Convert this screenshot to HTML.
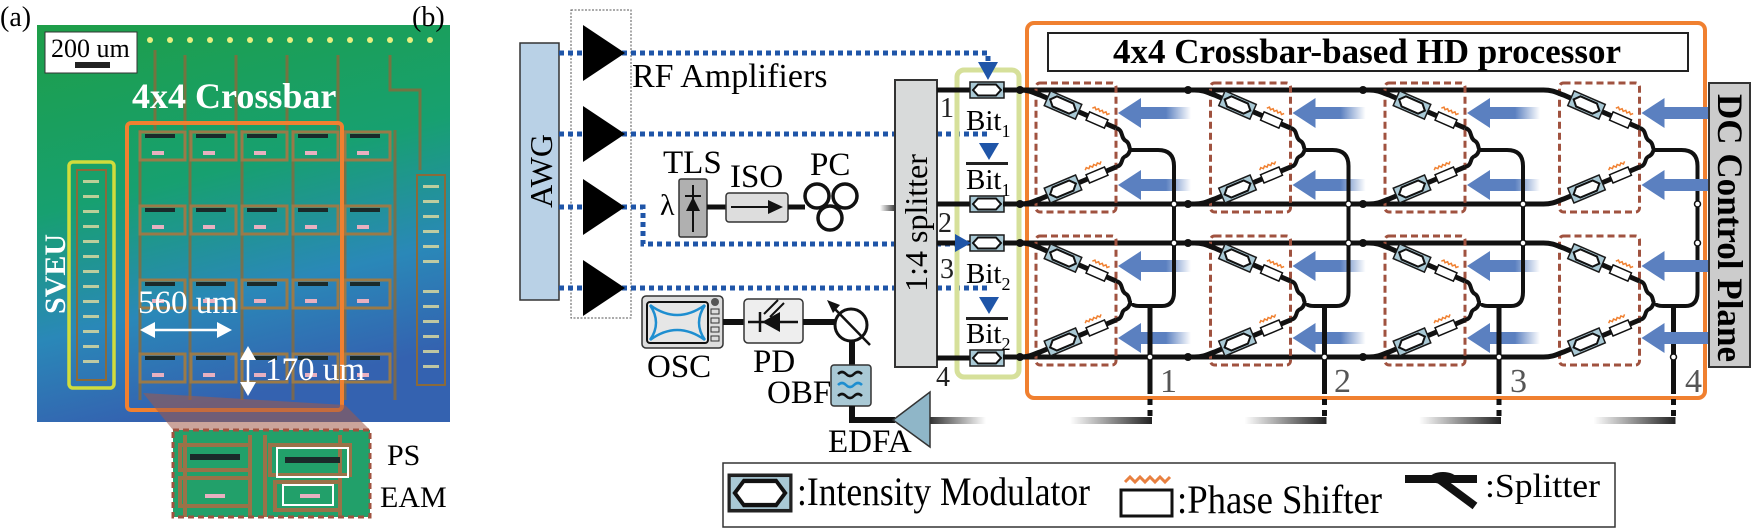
<!DOCTYPE html>
<html><head><meta charset="utf-8"><style>
html,body{margin:0;padding:0;background:#fff}
svg{display:block}
svg text{font-family:"Liberation Serif","DejaVu Serif",serif}
</style></head><body>
<svg width="1751" height="528" viewBox="0 0 1751 528" xmlns="http://www.w3.org/2000/svg" font-family="Liberation Serif, DejaVu Serif, serif" style="font-family:'Liberation Serif','DejaVu Serif',serif">
<defs>
<linearGradient id="chip" x1="0" y1="0" x2="0.25" y2="1">
<stop offset="0" stop-color="#1e9e48"/><stop offset="0.45" stop-color="#17a070"/><stop offset="0.75" stop-color="#2a88b8"/><stop offset="1" stop-color="#3462b0"/>
</linearGradient>
<linearGradient id="fade" x1="0" y1="0" x2="1" y2="0">
<stop offset="0" stop-color="#5b80c0"/><stop offset="0.5" stop-color="#5b80c0"/><stop offset="1" stop-color="#5b80c0" stop-opacity="0"/>
</linearGradient>
<linearGradient id="fadeL" x1="0" y1="0" x2="1" y2="0">
<stop offset="0" stop-color="#222" stop-opacity="0"/><stop offset="1" stop-color="#222"/>
</linearGradient>
<linearGradient id="grayR" x1="0" y1="0" x2="1" y2="0">
<stop offset="0" stop-color="#333"/><stop offset="1" stop-color="#333" stop-opacity="0"/>
</linearGradient>
<g id="mz"><rect x="-17" y="-8" width="34" height="16" fill="#a9c9d5" stroke="#1a1a1a" stroke-width="1.5"/><polygon points="-14,0 -9,-5.5 9,-5.5 14,0 9,5.5 -9,5.5" fill="#fff" stroke="#111" stroke-width="2"/></g>
<g id="ps"><rect x="-10" y="-4.5" width="20" height="9" fill="#fff" stroke="#111" stroke-width="1.5"/><path d="M-9,-9 l2,-2 2,2 2,-2 2,2 2,-2 2,2 2,-2 2,2 2,-2" fill="none" stroke="#f08030" stroke-width="1.5"/></g>
<g id="half">
<rect x="1036" y="83" width="80" height="129" rx="4" fill="none" stroke="#a0523f" stroke-width="3" stroke-dasharray="7,4"/>
<path d="M1020,90 C1030,90 1034,93 1040,95 L1116,128" fill="none" stroke="#111" stroke-width="5"/>
<path d="M1020,204 C1030,204 1034,201 1040,199 L1116,167" fill="none" stroke="#111" stroke-width="5"/>
<use href="#mz" transform="translate(1063,105) rotate(23.5)"/>
<use href="#ps" transform="translate(1097,120) rotate(23.5)"/>
<use href="#mz" transform="translate(1063,189) rotate(-22.8)"/>
<use href="#ps" transform="translate(1097,175) rotate(-22.8)"/>
<path d="M1116,128 C1124,130 1120,138 1126,141 C1131,144 1128,150 1132,150 M1116,167 C1124,165 1120,158 1126,156 C1131,153 1128,150 1132,150" fill="none" stroke="#111" stroke-width="4"/>
<polygon points="1118,113 1141,98 1141,128" fill="#5b80c0"/>
<rect x="1141" y="107" width="50" height="12" fill="url(#fade)"/>
<polygon points="1118,185 1141,170 1141,200" fill="#5b80c0"/>
<rect x="1141" y="179" width="50" height="12" fill="url(#fade)"/>
</g>
<g id="col">
<use href="#half"/>
<use href="#half" transform="translate(0,153)"/>
<path d="M1130,150 L1158,150 Q1174,150 1174,166 L1174,292 Q1174,306 1162,306 L1140,306 Q1132,306 1132,303" fill="none" stroke="#111" stroke-width="4"/>
<path d="M1150,306 L1150,388" fill="none" stroke="#111" stroke-width="5"/>
<path d="M1150,388 L1150,420" fill="none" stroke="#111" stroke-width="5" stroke-dasharray="6,5"/>
<rect x="1070" y="417" width="82" height="7" fill="url(#fadeL)"/>
<g fill="#fff" stroke="#111" stroke-width="1.5"><circle cx="1174" cy="204" r="3"/><circle cx="1174" cy="243" r="3"/><circle cx="1150" cy="357" r="3"/></g>
</g>
</defs>

<!-- ============ (a) ============ -->
<text x="0" y="26" font-size="28">(a)</text>
<rect x="37" y="25" width="413" height="397" fill="url(#chip)"/>
<g fill="#e8f080">
<circle cx="150" cy="40" r="3"/><circle cx="170" cy="40" r="3"/><circle cx="190" cy="40" r="3"/><circle cx="210" cy="40" r="3"/><circle cx="230" cy="40" r="3"/><circle cx="250" cy="40" r="3"/><circle cx="270" cy="40" r="3"/><circle cx="290" cy="40" r="3"/><circle cx="310" cy="40" r="3"/><circle cx="330" cy="40" r="3"/><circle cx="350" cy="40" r="3"/><circle cx="370" cy="40" r="3"/><circle cx="390" cy="40" r="3"/><circle cx="410" cy="40" r="3"/><circle cx="430" cy="40" r="3"/>
</g>
<g stroke="#8a6a3a" stroke-width="3" fill="none" opacity="0.8">
<path d="M155,50 V130 M185,55 V130 M236,55 V130 M287,55 V130 M338,55 V130 M390,55 V90 H420 V170"/>
<path d="M140,130 V400 M190,130 V400 M242,130 V400 M293,130 V400 M345,130 V400 M395,130 V400"/>
</g>
<g id="chiprow">
<g fill="none" stroke="#9a7a48" stroke-width="3">
<rect x="140" y="132" width="45" height="28"/><rect x="191" y="132" width="45" height="28"/><rect x="242" y="132" width="45" height="28"/><rect x="293" y="132" width="45" height="28"/><rect x="345" y="132" width="45" height="28"/>
</g>
<g fill="#1a2a2a"><rect x="145" y="134" width="30" height="4"/><rect x="196" y="134" width="30" height="4"/><rect x="247" y="134" width="30" height="4"/><rect x="298" y="134" width="30" height="4"/><rect x="350" y="134" width="30" height="4"/></g>
<g fill="#e8b0c0"><rect x="152" y="151" width="12" height="4"/><rect x="203" y="151" width="12" height="4"/><rect x="254" y="151" width="12" height="4"/><rect x="305" y="151" width="12" height="4"/><rect x="357" y="151" width="12" height="4"/></g>
</g>
<use href="#chiprow" transform="translate(0,74)"/>
<use href="#chiprow" transform="translate(0,148)"/>
<use href="#chiprow" transform="translate(0,222)"/>
<g fill="#d8d8a0" opacity="0.85">
<rect x="83" y="180" width="16" height="3"/><rect x="83" y="195" width="16" height="3"/><rect x="83" y="210" width="16" height="3"/><rect x="83" y="225" width="16" height="3"/><rect x="83" y="240" width="16" height="3"/><rect x="83" y="255" width="16" height="3"/><rect x="83" y="270" width="16" height="3"/><rect x="83" y="285" width="16" height="3"/><rect x="83" y="300" width="16" height="3"/><rect x="83" y="315" width="16" height="3"/><rect x="83" y="330" width="16" height="3"/><rect x="83" y="345" width="16" height="3"/><rect x="83" y="360" width="16" height="3"/>
<rect x="423" y="185" width="16" height="3"/><rect x="423" y="200" width="16" height="3"/><rect x="423" y="215" width="16" height="3"/><rect x="423" y="230" width="16" height="3"/><rect x="423" y="245" width="16" height="3"/><rect x="423" y="260" width="16" height="3"/><rect x="423" y="290" width="16" height="3"/><rect x="423" y="305" width="16" height="3"/><rect x="423" y="320" width="16" height="3"/><rect x="423" y="335" width="16" height="3"/><rect x="423" y="350" width="16" height="3"/><rect x="423" y="365" width="16" height="3"/>
</g>
<rect x="77" y="170" width="29" height="210" fill="none" stroke="#8a6a3a" stroke-width="2"/>
<rect x="417" y="175" width="28" height="210" fill="none" stroke="#8a6a3a" stroke-width="2"/>
<rect x="45" y="32" width="92" height="41" fill="#fff" stroke="#333" stroke-width="1"/>
<text x="51" y="57" font-size="26">200 um</text>
<rect x="75" y="62" width="35" height="6" fill="#222"/>
<text x="132" y="108" font-size="36" font-weight="bold" fill="#fff">4x4 Crossbar</text>
<rect x="127" y="123" width="215" height="287" rx="4" fill="none" stroke="#f08030" stroke-width="4"/>
<rect x="69" y="162" width="45" height="226" rx="4" fill="none" stroke="#d0dc3c" stroke-width="3.5"/>
<text transform="translate(65,314) rotate(-90)" font-size="30" font-weight="bold" fill="#fff">SVEU</text>
<text x="138" y="313" font-size="33" fill="#fff">560 um</text>
<g stroke="#fff" stroke-width="2.5" fill="#fff">
<line x1="150" y1="330" x2="222" y2="330"/>
<polygon points="140,330 155,322 155,338" stroke="none"/><polygon points="232,330 217,322 217,338" stroke="none"/>
<line x1="248" y1="356" x2="248" y2="386"/>
<polygon points="248,346 240,360 256,360" stroke="none"/><polygon points="248,396 240,382 256,382" stroke="none"/>
</g>
<text x="265" y="380" font-size="33" fill="#fff">170 um</text>
<polygon points="143,393 345,405 370,430 173,430" fill="#a05a48" opacity="0.55"/>
<rect x="173" y="430" width="197" height="87" fill="#22a06a"/>
<g fill="none" stroke="#9a7248" stroke-width="4">
<path d="M185,435 V517 M250,435 V517 M265,435 V517 M340,435 V517"/>
<rect x="180" y="445" width="70" height="25"/><rect x="270" y="445" width="80" height="30"/><rect x="180" y="478" width="70" height="28"/><rect x="275" y="482" width="65" height="28"/>
</g>
<rect x="190" y="454" width="50" height="6" fill="#1a2a2a"/><rect x="285" y="457" width="55" height="6" fill="#1a2a2a"/>
<rect x="205" y="494" width="20" height="4" fill="#e8b0c0"/><rect x="300" y="494" width="20" height="4" fill="#e8b0c0"/>
<rect x="173" y="430" width="197" height="87" fill="none" stroke="#a0523f" stroke-width="3" stroke-dasharray="6,4"/>
<rect x="277" y="448" width="71" height="29" fill="none" stroke="#fff" stroke-width="2"/>
<rect x="283" y="485" width="50" height="20" fill="none" stroke="#fff" stroke-width="2"/>
<text x="387" y="465" font-size="30">PS</text>
<text x="380" y="507" font-size="30">EAM</text>

<!-- ============ (b) ============ -->
<text x="412" y="26" font-size="28">(b)</text>
<rect x="520" y="43" width="39" height="257" fill="#b9d1e6" stroke="#333" stroke-width="1.5"/>
<text transform="translate(552,171) rotate(-90)" font-size="32" text-anchor="middle">AWG</text>
<rect x="571" y="10" width="60" height="308" fill="none" stroke="#555" stroke-width="1" stroke-dasharray="2,1.5"/>
<g fill="none" stroke="#1f55a8" stroke-width="5" stroke-dasharray="5,4">
<path d="M559,53 H988 V62"/>
<path d="M559,134 H990"/>
<path d="M559,207 H643 V244 H955"/>
<path d="M559,288 H990"/>
</g>
<g fill="#000">
<polygon points="583,25 625,53 583,81"/><polygon points="583,106 625,134 583,162"/><polygon points="583,179 625,207 583,235"/><polygon points="583,260 625,288 583,316"/>
</g>
<text x="632" y="87" font-size="34">RF Amplifiers</text>
<text x="663" y="173" font-size="33">TLS</text>
<text x="660" y="215" font-size="30">λ</text>
<rect x="679" y="179" width="28" height="58" rx="2" fill="#b0b0b0" stroke="#333" stroke-width="1.5"/>
<path d="M693,185 V232 M685,196 H701" stroke="#111" stroke-width="2"/>
<polygon points="693,197 686,211 700,211" fill="#111"/>
<line x1="707" y1="207" x2="726" y2="207" stroke="#111" stroke-width="5"/>
<text x="730" y="187" font-size="33">ISO</text>
<rect x="726" y="193" width="62" height="29" rx="3" fill="#ddd" stroke="#333" stroke-width="1.5"/>
<line x1="731" y1="207" x2="770" y2="207" stroke="#111" stroke-width="2"/><polygon points="783,207 768,200 768,214" fill="#111"/>
<line x1="788" y1="207" x2="805" y2="207" stroke="#111" stroke-width="5"/>
<text x="810" y="175" font-size="33">PC</text>
<g fill="none" stroke="#111" stroke-width="3.5"><circle cx="817" cy="196" r="12"/><circle cx="845" cy="196" r="12"/><circle cx="830" cy="218" r="12"/></g>
<rect x="880" y="205" width="17" height="6" fill="url(#fadeL)"/>
<rect x="895" y="80" width="42" height="287" fill="#d8dada" stroke="#333" stroke-width="2"/>
<text transform="translate(927,223) rotate(-90)" font-size="32" text-anchor="middle">1:4 splitter</text>
<rect x="957" y="70" width="62" height="307" rx="7" fill="none" stroke="#d6e09a" stroke-width="5"/>
<g stroke="#111" stroke-width="5">
<line x1="937" y1="90" x2="970" y2="90"/><line x1="937" y1="204" x2="970" y2="204"/><line x1="937" y1="243" x2="970" y2="243"/><line x1="937" y1="358" x2="970" y2="358"/>
</g>
<g font-size="28" fill="#222"><text x="940" y="117">1</text><text x="938" y="232">2</text><text x="940" y="278">3</text><text x="936" y="386">4</text></g>
<use href="#mz" transform="translate(987,90)"/><use href="#mz" transform="translate(987,204)"/><use href="#mz" transform="translate(987,243)"/><use href="#mz" transform="translate(987,358)"/>
<g fill="#1f55a8">
<polygon points="978,62 998,62 988,80"/><polygon points="979,143 999,143 989,160"/><polygon points="955,234 971,243 955,252"/><polygon points="979,297 999,297 989,314"/>
</g>
<g fill="#222"><rect x="966" y="162" width="42" height="3"/><rect x="966" y="317" width="42" height="3"/></g>
<g font-size="29">
<text x="966" y="130">Bit<tspan font-size="18" dy="7">1</tspan></text>
<text x="966" y="189">Bit<tspan font-size="18" dy="7">1</tspan></text>
<text x="966" y="283">Bit<tspan font-size="18" dy="7">2</tspan></text>
<text x="966" y="343">Bit<tspan font-size="18" dy="7">2</tspan></text>
</g>
<rect x="642" y="296" width="81" height="52" rx="4" fill="#ddd" stroke="#333" stroke-width="1.5"/>
<rect x="647" y="302" width="61" height="41" rx="3" fill="#e6e6e6" stroke="#111" stroke-width="2"/>
<path d="M650,305 Q662,323 650,340 M705,305 Q693,323 705,340 M650,305 Q677,325 705,305 M650,340 Q677,320 705,340" fill="none" stroke="#1e8ed0" stroke-width="2.5"/>
<circle cx="715" cy="302" r="4" fill="#555"/>
<g fill="#ddd" stroke="#333"><rect x="711" y="309" width="8" height="5"/><rect x="711" y="318" width="8" height="5"/><rect x="711" y="327" width="8" height="5"/><rect x="711" y="336" width="8" height="5"/></g>
<line x1="723" y1="322" x2="744" y2="322" stroke="#111" stroke-width="6"/>
<text x="647" y="377" font-size="33">OSC</text>
<rect x="744" y="299" width="59" height="44" rx="4" fill="#eee" stroke="#333" stroke-width="1.5"/>
<path d="M748,322 H798 M760,312 V332" stroke="#111" stroke-width="2.5"/>
<polygon points="762,322 780,312 780,332" fill="#111"/>
<path d="M784,303 L770,317 M778,300 L764,314" stroke="#111" stroke-width="2"/>
<text x="753" y="372" font-size="33">PD</text>
<line x1="803" y1="322" x2="836" y2="322" stroke="#111" stroke-width="6"/>
<circle cx="851" cy="325" r="16" fill="#fff" stroke="#111" stroke-width="3"/>
<line x1="832" y1="306" x2="870" y2="345" stroke="#111" stroke-width="2.5"/>
<polygon points="827,300 840,305 833,313" fill="#111"/>
<line x1="852" y1="341" x2="852" y2="365" stroke="#111" stroke-width="6"/>
<rect x="831" y="365" width="40" height="41" rx="3" fill="#a9c9d5" stroke="#333" stroke-width="1.5"/>
<path d="M838,374 q4,-4 8,0 t8,0 t8,0 M838,396 q4,-4 8,0 t8,0 t8,0" fill="none" stroke="#111" stroke-width="2.5"/>
<path d="M838,385 q4,-4 8,0 t8,0 t8,0" fill="none" stroke="#1e8ed0" stroke-width="2.5"/>
<text x="767" y="403" font-size="33">OBF</text>
<path d="M852,406 V420 H895" fill="none" stroke="#111" stroke-width="6"/>
<polygon points="893,420 930,392 930,447" fill="#8fb6c8" stroke="#333" stroke-width="1.5"/>
<rect x="930" y="417" width="56" height="7" fill="url(#grayR)"/>
<text x="828" y="452" font-size="33">EDFA</text>

<rect x="1027" y="23" width="678" height="375" rx="7" fill="none" stroke="#f08030" stroke-width="4"/>
<rect x="1048" y="33" width="640" height="38" fill="#fff" stroke="#222" stroke-width="2"/>
<text x="1113" y="63" font-size="35" font-weight="bold" textLength="508" lengthAdjust="spacingAndGlyphs">4x4 Crossbar-based HD processor</text>
<g stroke="#111" stroke-width="5">
<line x1="1003" y1="90" x2="1544" y2="90"/><line x1="1003" y1="204" x2="1544" y2="204"/><line x1="1003" y1="243" x2="1544" y2="243"/><line x1="1003" y1="357" x2="1544" y2="357"/>
</g>
<use href="#col"/>
<use href="#col" transform="translate(174.5,0)"/>
<use href="#col" transform="translate(349,0)"/>
<use href="#col" transform="translate(523.5,0)"/>
<g fill="#111"><circle cx="1188" cy="90" r="4"/><circle cx="1363" cy="90" r="4"/><circle cx="1188" cy="204" r="4"/><circle cx="1363" cy="204" r="4"/><circle cx="1188" cy="243" r="4"/><circle cx="1363" cy="243" r="4"/><circle cx="1188" cy="357" r="4"/><circle cx="1363" cy="357" r="4"/><circle cx="1020" cy="90" r="4"/><circle cx="1020" cy="204" r="4"/><circle cx="1020" cy="243" r="4"/><circle cx="1020" cy="357" r="4"/></g>
<rect x="1660" y="107" width="50" height="12" fill="#5b80c0"/><rect x="1660" y="179" width="50" height="12" fill="#5b80c0"/><rect x="1660" y="260" width="50" height="12" fill="#5b80c0"/><rect x="1660" y="332" width="50" height="12" fill="#5b80c0"/>
<g font-size="34" fill="#555"><text x="1160" y="392">1</text><text x="1334" y="392">2</text><text x="1510" y="392">3</text><text x="1685" y="392">4</text></g>
<rect x="1709" y="83" width="41" height="284" fill="#ccc" stroke="#333" stroke-width="2"/>
<text transform="translate(1718,94) rotate(90)" font-size="36" font-weight="bold" textLength="268" lengthAdjust="spacingAndGlyphs">DC Control Plane</text>

<rect x="723" y="463" width="892" height="64" fill="#fff" stroke="#333" stroke-width="1.5"/>
<g transform="translate(760,493) scale(1.8,2.2)"><use href="#mz"/></g>
<rect x="729" y="475" width="62" height="36" fill="none" stroke="#222" stroke-width="3"/>
<text x="797" y="505" font-size="40" textLength="293" lengthAdjust="spacingAndGlyphs">:Intensity Modulator</text>
<rect x="1121" y="490" width="51" height="26" fill="#fff" stroke="#111" stroke-width="3"/>
<path d="M1125,482 l5,-5 5,5 5,-5 5,5 5,-5 5,5 5,-5 5,5 5,-5" fill="none" stroke="#e88040" stroke-width="3"/>
<text x="1177" y="513" font-size="40" textLength="205" lengthAdjust="spacingAndGlyphs">:Phase Shifter</text>
<path d="M1405,479 H1477" stroke="#111" stroke-width="8"/>
<path d="M1440,480 L1475,506" stroke="#111" stroke-width="8"/>
<ellipse cx="1443" cy="478" rx="13" ry="6" fill="#111"/>
<text x="1485" y="497" font-size="34" textLength="115" lengthAdjust="spacingAndGlyphs">:Splitter</text>
</svg>
</body></html>
